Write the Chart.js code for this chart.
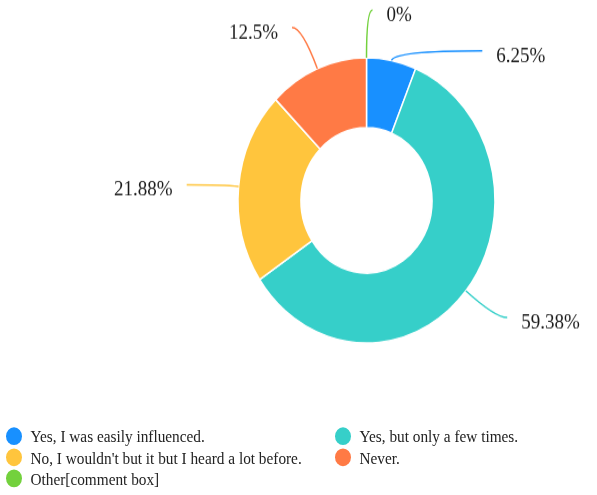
<!DOCTYPE html>
<html>
<head>
<meta charset="utf-8">
<script src="https://cdn.jsdelivr.net/npm/chart.js@4/dist/chart.umd.min.js"></script>
<style>
  html { margin: 0; padding: 0; background: #fff; overflow: hidden; }
  body { margin: 0; padding: 0; background: #fff; width: 597px; height: 495px; }
  #stage { position: relative; width: 597px; height: 446px; transform-origin: 0 0; transform: scaleY(1.1099); }
  #legend { position: absolute; left: 0; top: 0; width: 597px; font-family: "Liberation Serif", "Times New Roman", serif; font-size: 15.3px; color: #222; }
  .item { position: absolute; height: 19px; line-height: 19px; white-space: nowrap; }
  .dot { position: absolute; left: 0; top: 1.5px; width: 16px; height: 16px; border-radius: 50%; }
  .txt { position: absolute; left: 25px; top: 0; }
</style>
</head>
<body>
<div id="stage">
  <canvas id="c" width="597" height="446"></canvas>
  <div id="legend"></div>
</div>
<script>
// Survey answers and their share of responses (%)
const categories = [
  "Yes, I was easily influenced.",
  "Yes, but only a few times.",
  "No, I wouldn't but it but I heard a lot before.",
  "Never.",
  "Other[comment box]"
];
const percentages = [6.25, 59.38, 21.88, 12.5, 0];
const percentLabels = ["6.25%", "59.38%", "21.88%", "12.5%", "0%"];
const sliceColors = ["#1890ff", "#36cfc9", "#ffc53d", "#ff7a45", "#73d13d"];

// Leader line shape per slice: radial run, then horizontal run
const leaderRadial = [9, 38, 15, 40, 43];
const leaderHorizontal = [89, 12, 37, 10, 6];

// Legend grid: two columns, filled row by row
const legendCols = [5.5, 334.5];
const legendRows = [383, 402.5, 421.5];

const leaderLabels = {
  id: "leaderLabels",
  afterDatasetsDraw(chart) {
    const ctx = chart.ctx;
    const meta = chart.getDatasetMeta(0);
    ctx.save();
    ctx.font = '19px "Liberation Serif", "Times New Roman", serif';
    ctx.textBaseline = "middle";
    meta.data.forEach((arc, i) => {
      const p = arc.getProps(["x", "y", "startAngle", "endAngle", "outerRadius"], true);
      const mid = (p.startAngle + p.endAngle) / 2;
      const cos = Math.cos(mid), sin = Math.sin(mid);
      const right = cos > -1e-6;
      const dir = right ? 1 : -1;
      const x0 = p.x + cos * p.outerRadius, y0 = p.y + sin * p.outerRadius;
      const r1 = p.outerRadius + leaderRadial[i];
      const x1 = p.x + cos * r1, y1 = p.y + sin * r1;
      const x2 = x1 + dir * leaderHorizontal[i], y2 = y1;
      ctx.strokeStyle = sliceColors[i];
      ctx.lineWidth = 1.5;
      ctx.beginPath();
      ctx.moveTo(x0, y0);
      ctx.quadraticCurveTo(x1, y1, x2, y2);
      ctx.stroke();
      ctx.fillStyle = "#1a1a1a";
      ctx.textAlign = right ? "left" : "right";
      ctx.fillText(percentLabels[i], x2 + dir * 14, y2 + 5);
    });
    ctx.restore();
  }
};

const chart = new Chart(document.getElementById("c"), {
  type: "doughnut",
  data: {
    labels: categories,
    datasets: [{
      data: percentages,
      backgroundColor: sliceColors,
      borderColor: "#ffffff",
      borderWidth: 1.5
    }]
  },
  options: {
    responsive: false,
    animation: false,
    radius: 128.5,
    cutout: "51%",
    layout: { padding: { left: 238, right: 102, top: 52, bottom: 137 } },
    plugins: {
      legend: { display: false },
      tooltip: { enabled: false }
    }
  },
  plugins: [leaderLabels]
});

// HTML legend built from the chart's own legend items
const legendEl = document.getElementById("legend");
const items = chart.options.plugins.legend.labels.generateLabels(chart);
items.forEach((it, i) => {
  const row = Math.floor(i / 2), col = i % 2;
  const div = document.createElement("div");
  div.className = "item";
  div.style.left = legendCols[col] + "px";
  div.style.top = legendRows[row] + "px";
  const dot = document.createElement("span");
  dot.className = "dot";
  dot.style.background = sliceColors[it.index];
  const txt = document.createElement("span");
  txt.className = "txt";
  txt.textContent = it.text;
  div.appendChild(dot);
  div.appendChild(txt);
  legendEl.appendChild(div);
});
</script>
</body>
</html>
